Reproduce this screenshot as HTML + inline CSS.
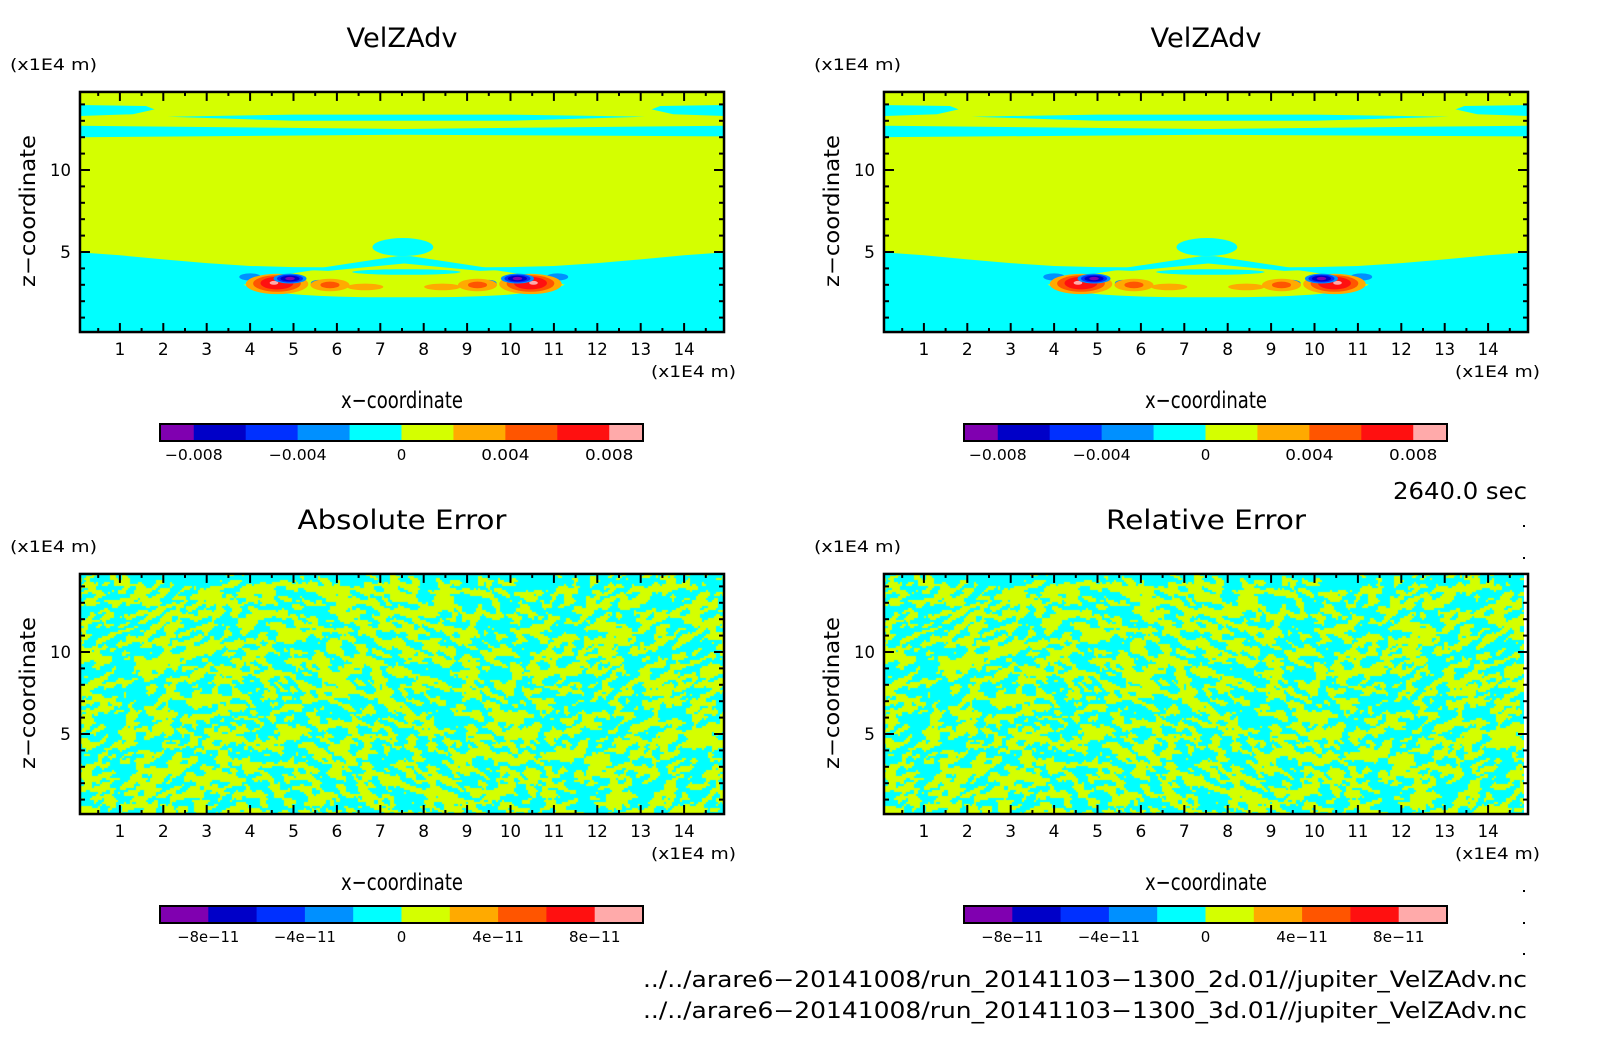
<!DOCTYPE html>
<html><head><meta charset="utf-8"><title>VelZAdv comparison</title>
<style>
html,body{margin:0;padding:0;background:#fff;}
#wrap{position:relative;width:1604px;height:1054px;overflow:hidden;background:#fff;}
canvas{position:absolute;}
svg{position:absolute;left:0;top:0;}
text{font-family:"DejaVu Sans","Liberation Sans",sans-serif;fill:#000;}
</style></head><body>
<div id="wrap">
<canvas id="nz1" width="644" height="240" style="left:80px;top:574px"></canvas>
<canvas id="nz2" width="640" height="240" style="left:884px;top:574px"></canvas>
<svg id="svg" width="1604" height="1054" xmlns="http://www.w3.org/2000/svg"></svg>
</div>
<script>
// ---- data ----
const colors = ["#8000b0","#0000c8","#0030ff","#0090ff","#00ffff","#d4ff00","#ffaa00","#ff5500","#ff1010","#ffaaaa"];
const xTicks = [1,2,3,4,5,6,7,8,9,10,11,12,13,14];
const zTicks = [5,10];
const topCbarEdges = [-0.0093,-0.008,-0.006,-0.004,-0.002,0,0.002,0.004,0.006,0.008,0.0093];
const topCbarLabels = [-0.008,-0.004,0,0.004,0.008];
const topCbarText = ["\u22120.008","\u22120.004","0","0.004","0.008"];
const errCbarEdges = [-1e-10,-8e-11,-6e-11,-4e-11,-2e-11,0,2e-11,4e-11,6e-11,8e-11,1e-10];
const errCbarLabels = [-8e-11,-4e-11,0,4e-11,8e-11];
const errCbarText = ["\u22128e\u221211","\u22124e\u221211","0","4e\u221211","8e\u221211"];
// cyan/yellow interface height (z) sampled at x = 0..15
const interfaceX = [0,1,2,3,4,5,6,7,8,9,10,11,12,13,14,15];
const interfaceZ = [4.98,4.8,4.55,4.32,4.15,4.08,4.06,4.06,4.06,4.06,4.08,4.15,4.32,4.55,4.8,4.98];
// blobs: x, z, rx, rz, color index
const blobX  = [7.52, 7.6, 4.0, 11.08, 5.57, 9.51, 5.84,5.84, 9.24,9.24, 6.65, 8.43,
                4.62,4.62,4.62,4.55, 10.46,10.46,10.46,10.53,
                4.92,4.92,4.92,4.92, 10.16,10.16,10.16,10.16];
const blobZ  = [5.3, 3.78, 3.48, 3.48, 3.1, 3.1, 2.99,2.99, 2.99,2.99, 2.87, 2.87,
                3.05,3.08,3.1,3.12, 3.05,3.08,3.1,3.12,
                3.38,3.38,3.38,3.38, 3.38,3.38,3.38,3.38];
const blobRX = [0.7, 1.25, 0.25, 0.25, 0.17, 0.17, 0.45,0.22, 0.45,0.22, 0.42, 0.42,
                0.72,0.55,0.38,0.1, 0.72,0.55,0.38,0.1,
                0.38,0.3,0.22,0.11, 0.38,0.3,0.22,0.11];
const blobRZ = [0.55, 0.17, 0.22, 0.22, 0.2, 0.2, 0.38,0.2, 0.38,0.2, 0.2, 0.2,
                0.62,0.5,0.38,0.12, 0.62,0.5,0.38,0.12,
                0.3,0.24,0.18,0.1, 0.3,0.24,0.18,0.1];
const blobC  = [4, 4, 3, 3, 3, 3, 6,7, 6,7, 6, 6,
                6,7,8,9, 6,7,8,9,
                3,2,1,0, 3,2,1,0];

// ---- axis helpers ----
const NS="http://www.w3.org/2000/svg";
const svg=document.getElementById('svg');
const X_ORIGIN=76.5, X_UNIT=43.4, Z_UNIT=16.4;
const XMIN=0.08, XMAX=14.92, ZMIN=0.12, ZMAX=14.76;
function xs(v,off){return off+X_ORIGIN+v*X_UNIT;}
function zs(z,off){return off+252-(z-5)*Z_UNIT;}
function mk(tag,attrs,parent){const e=document.createElementNS(NS,tag);for(const k in attrs)e.setAttribute(k,attrs[k]);(parent||svg).appendChild(e);return e;}
function txt(s,x,y,size,anchor,parent,len){const a={x:x,y:y,'font-size':size,'text-anchor':anchor||'middle'};if(len){a.textLength=len;a.lengthAdjust='spacingAndGlyphs';}const t=mk('text',a,parent);t.textContent=s;return t;}

function drawTopField(ox,oy,prefix){
  const g=mk('g',{});
  
  
  const L=xs(XMIN,ox),R=xs(XMAX,ox),T=zs(ZMAX,oy),B=zs(ZMIN,oy);
  mk('rect',{x:L,y:T,width:R-L,height:B-T,fill:colors[5]},g);
  let d='M'+L+','+B;
  for(let i=0;i<interfaceX.length;i++){let x=Math.min(Math.max(interfaceX[i],XMIN),XMAX);d+=' L'+xs(x,ox)+','+zs(interfaceZ[i],oy);}
  d+=' L'+R+','+B+' Z';
  mk('path',{d:d,fill:colors[4]},g);
  mk('path',{d:`M${L},${zs(13.96,oy)} L${xs(1.6,ox)},${zs(13.9,oy)} L${xs(1.8,ox)},${zs(13.7,oy)} L${xs(1.3,ox)},${zs(13.4,oy)} L${L},${zs(13.29,oy)} Z`,fill:colors[4]},g);
  mk('path',{d:`M${R},${zs(13.96,oy)} L${xs(13.45,ox)},${zs(13.9,oy)} L${xs(13.25,ox)},${zs(13.7,oy)} L${xs(13.75,ox)},${zs(13.4,oy)} L${R},${zs(13.29,oy)} Z`,fill:colors[4]},g);
  mk('path',{d:`M${xs(2.1,ox)},${zs(13.25,oy)} L${xs(5,ox)},${zs(13.38,oy)} L${xs(10,ox)},${zs(13.38,oy)} L${xs(13.1,ox)},${zs(13.25,oy)} L${xs(10,ox)},${zs(13.0,oy)} L${xs(5,ox)},${zs(13.0,oy)} Z`,fill:colors[4]},g);
  mk('path',{d:`M${L},${zs(12.7,oy)} L${xs(7.5,ox)},${zs(12.5,oy)} L${R},${zs(12.7,oy)} L${R},${zs(12.05,oy)} L${xs(7.5,ox)},${zs(12.15,oy)} L${L},${zs(12.0,oy)} Z`,fill:colors[4]},g);
  mk('path',{d:`M${xs(3.85,ox)},${zs(3.0,oy)} Q${xs(5.2,ox)},${zs(4.1,oy)} ${xs(7.54,ox)},${zs(4.35,oy)} Q${xs(9.9,ox)},${zs(4.1,oy)} ${xs(11.25,ox)},${zs(3.0,oy)} Q${xs(10.6,ox)},${zs(2.2,oy)} ${xs(7.54,ox)},${zs(2.24,oy)} Q${xs(4.5,ox)},${zs(2.2,oy)} ${xs(3.85,ox)},${zs(3.0,oy)} Z`,fill:colors[5]},g);
  mk('path',{d:`M${xs(7.4,ox)},${zs(4.75,oy)} L${xs(7.7,ox)},${zs(4.75,oy)} L${xs(9.8,ox)},${zs(3.9,oy)} L${xs(9.3,ox)},${zs(3.85,oy)} L${xs(7.55,ox)},${zs(4.3,oy)} L${xs(5.8,ox)},${zs(3.85,oy)} L${xs(5.3,ox)},${zs(3.9,oy)} Z`,fill:colors[4]},g);
  for(let i=0;i<blobX.length;i++){
    const e=mk('ellipse',{cx:xs(blobX[i],ox),cy:zs(blobZ[i],oy),rx:blobRX[i]*X_UNIT,ry:blobRZ[i]*Z_UNIT,fill:colors[blobC[i]]},g);
    
    
  }
}

function drawAxes(ox,oy,prefix,title,titleLen){
  const L=xs(XMIN,ox),R=xs(XMAX,ox),T=zs(ZMAX,oy),B=zs(ZMIN,oy);
  const g=mk('g',{});
  
  
  mk('rect',{x:L,y:T,width:R-L,height:B-T,fill:'none',stroke:'#000','stroke-width':2.5},g);
  for(let v=0.5;v<XMAX;v+=0.5){
    const major=Math.abs(v-Math.round(v))<1e-6;const len=major?9:4;const x=xs(v,ox);
    mk('line',{x1:x,y1:B,x2:x,y2:B-len,stroke:'#000','stroke-width':2},g);
    mk('line',{x1:x,y1:T,x2:x,y2:T+len,stroke:'#000','stroke-width':2},g);
  }
  for(let z=1;z<ZMAX;z+=1){
    const major=z%5===0;const len=major?10:5;const y=zs(z,oy);
    mk('line',{x1:L,y1:y,x2:L+len,y2:y,stroke:'#000','stroke-width':2},g);
    mk('line',{x1:R,y1:y,x2:R-len,y2:y,stroke:'#000','stroke-width':2},g);
  }
  xTicks.forEach(v=>{const t=txt(String(v),xs(v,ox),oy+355,17,'middle',g,v>=10?21:null);
    
    });
  zTicks.forEach(v=>{const t=txt(String(v),ox+71,zs(v,oy)+6,17,'end',g,v>=10?21:null);
    
    });
  let t=txt(title,ox+402,oy+47,27,'middle',g,titleLen);
  
  
  t=txt('(x1E4 m)',ox+10,oy+70,16,'start',g,87);
  
  
  t=txt('(x1E4 m)',ox+651,oy+377,16,'start',g,85);
  
  
  t=txt('x\u2212coordinate',ox+402,oy+408,23,'middle',g,122);
  
  
  t=mk('text',{x:0,y:0,'font-size':21,'text-anchor':'middle',textLength:152,lengthAdjust:'spacingAndGlyphs',transform:`translate(${ox+35},${oy+211}) rotate(-90)`},g);
  t.textContent='z\u2212coordinate';
  
  
}

function drawCbar(ox,oy,edges,labels,texts,prefix,lw){
  const g=mk('g',{});
  
  
  const L=ox+160,W=483,T=oy+332,H=17;
  const lo=edges[0],hi=edges[edges.length-1];
  const cx=v=>L+(v-lo)/(hi-lo)*W;
  for(let i=0;i<edges.length-1;i++){
    const r=mk('rect',{x:cx(edges[i]),y:T,width:cx(edges[i+1])-cx(edges[i])+0.5,height:H,fill:colors[i]},g);
    
    
  }
  mk('rect',{x:L,y:T,width:W,height:H,fill:'none',stroke:'#000','stroke-width':2},g);
  labels.forEach((v,i)=>{const t=txt(texts[i],cx(v),T+36,15,'middle',g,texts[i]==='0'?null:lw*(texts[i].length/6));
    
    });
}

drawTopField(0,0,'velzadv-2d');
drawTopField(804,0,'velzadv-3d');
drawAxes(0,0,'velzadv-2d','VelZAdv',111);
drawAxes(804,0,'velzadv-3d','VelZAdv',111);
drawAxes(0,482,'absolute-error','Absolute Error',209);
drawAxes(804,482,'relative-error','Relative Error',200);
drawCbar(0,92,topCbarEdges,topCbarLabels,topCbarText,'velzadv-2d',58);
drawCbar(804,92,topCbarEdges,topCbarLabels,topCbarText,'velzadv-3d',58);
drawCbar(0,574,errCbarEdges,errCbarLabels,errCbarText,'absolute-error',62);
drawCbar(804,574,errCbarEdges,errCbarLabels,errCbarText,'relative-error',62);

let t=txt('2640.0 sec',1527,499,23,'end',null,134);


t=txt('../../arare6\u221220141008/run_20141103\u22121300_2d.01//jupiter_VelZAdv.nc',1527,987,22,'end',null,884);


t=txt('../../arare6\u221220141008/run_20141103\u22121300_3d.01//jupiter_VelZAdv.nc',1527,1018,22,'end',null,884);


[525,557,857,890,922,953].forEach(y=>{const c=mk('rect',{x:1523,y:y,width:2,height:2,fill:'#000'});
  
  });

// ---- error-field texture (procedural noise pattern) ----
function hash(i,j,s){let h=Math.imul(i,374761393)+Math.imul(j,668265263)+Math.imul(s,1442695041);h=Math.imul(h^(h>>>13),1274126177);h^=h>>>16;return (h>>>0)/4294967296;}
function vnoise(x,y,s){const i=Math.floor(x),j=Math.floor(y),fx=x-i,fy=y-j;const u=fx*fx*(3-2*fx),v=fy*fy*(3-2*fy);
  const a=hash(i,j,s),b=hash(i+1,j,s),c=hash(i,j+1,s),d=hash(i+1,j+1,s);return a+(b-a)*u+(c-a)*v+(a-b-c+d)*u*v;}
function field(x,y,th,seed){const c=Math.cos(th),s=Math.sin(th);const u=x*c+y*s,v=-x*s+y*c;
  return 0.6*vnoise(u/10,v/4.5,seed)+0.4*vnoise(u/5,v/3,seed+7);}
function paint(id,seed){
  const cv=document.getElementById(id),ctx=cv.getContext('2d');const W=cv.width,H=cv.height;
  const img=ctx.createImageData(W,H);
  for(let y=0;y<H;y+=2){for(let x=0;x<W;x+=2){
    const w=0.5+0.5*Math.sin((x-160)/100);
    let f=w*field(x,y,0.4,seed)+(1-w)*field(x,y,-0.4,seed+3);
    f=(f-0.5)*1.4+0.5;
    if(y<10)f-=0.25*(1-y/10);
    const cyan=f<0.5;
    for(let dy=0;dy<2;dy++)for(let dx=0;dx<2;dx++){const k=((y+dy)*W+x+dx)*4;
      img.data[k]=cyan?0:212;img.data[k+1]=255;img.data[k+2]=cyan?255:0;img.data[k+3]=255;}
  }}
  ctx.putImageData(img,0,0);
}
paint('nz1',1);paint('nz2',1);
</script>
</body></html>
